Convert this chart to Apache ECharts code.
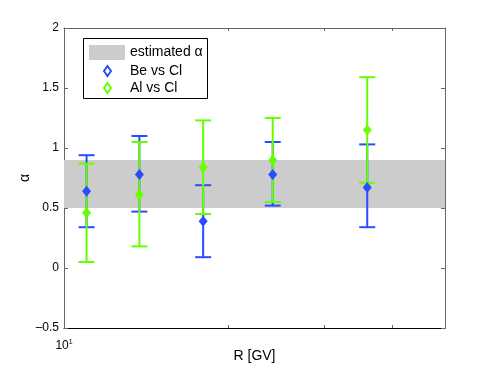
<!DOCTYPE html>
<html>
<head>
<meta charset="utf-8">
<script src="https://cdn.jsdelivr.net/npm/echarts@6/dist/echarts.min.js"></script>
<style>
  html, body { margin: 0; padding: 0; background: #fff; }
  #chart { width: 491px; height: 370px; }
</style>
</head>
<body>
<div id="chart"></div>
<script>
// rigidity bins (GV) and alpha estimates
const rigidity = [11, 13.75, 18, 24.15, 36];
const beAlpha = [0.64, 0.78, 0.39, 0.78, 0.67];
const beLow = [0.34, 0.47, 0.09, 0.52, 0.34];
const beHigh = [0.94, 1.10, 0.69, 1.05, 1.03];
const alAlpha = [0.46, 0.61, 0.84, 0.90, 1.15];
const alLow = [0.05, 0.18, 0.45, 0.55, 0.71];
const alHigh = [0.87, 1.05, 1.23, 1.25, 1.59];
const bandRange = [0.5, 0.9];
const xMinorTicks = [20, 30, 40];

const BLUE = '#2b4bff';
const GREEN = '#66ff00';
const FONT = 'Liberation Sans';

const chart = echarts.init(document.getElementById('chart'));

function errorBarItem(params, api) {
  const x = api.value(0);
  const lo = api.coord([x, api.value(1)]);
  const hi = api.coord([x, api.value(2)]);
  const half = 8;
  const style = { stroke: api.visual('color'), lineWidth: 2 };
  return {
    type: 'group',
    children: [
      { type: 'line', shape: { x1: lo[0], y1: lo[1], x2: hi[0], y2: hi[1] }, style },
      { type: 'line', shape: { x1: lo[0] - half, y1: lo[1], x2: lo[0] + half, y2: lo[1] }, style },
      { type: 'line', shape: { x1: hi[0] - half, y1: hi[1], x2: hi[0] + half, y2: hi[1] }, style }
    ]
  };
}

function bandItem(params, api) {
  const cs = params.coordSys;
  const top = api.coord([api.value(0), api.value(2)])[1];
  const bottom = api.coord([api.value(0), api.value(1)])[1];
  return {
    type: 'rect',
    shape: { x: cs.x, y: top, width: cs.width, height: bottom - top },
    style: { fill: '#cccccc' }
  };
}

const xBase = {
  type: 'log',
  logBase: 10,
  min: 10,
  max: 50,
  splitLine: { show: false },
  axisTick: { inside: true, length: 3, customValues: xMinorTicks, lineStyle: { color: '#666' } }
};
const yBase = {
  type: 'value',
  min: -0.5,
  max: 2,
  interval: 0.5,
  splitLine: { show: false },
  axisTick: { inside: true, length: 4, lineStyle: { color: '#666' } }
};

chart.setOption({
  animation: false,
  textStyle: { fontFamily: FONT },
  grid: { left: 64, right: 46, top: 28, bottom: 42, outerBoundsMode: 'none', containLabel: false },
  xAxis: [
    Object.assign({}, xBase, {
      position: 'bottom',
      axisLine: { onZero: false, lineStyle: { color: '#000', width: 1 } },
      axisLabel: {
        customValues: [10],
        margin: 11,
        formatter: () => '{b|10}{s|1}',
        rich: {
          b: { fontSize: 12, color: '#000', fontFamily: FONT },
          s: { fontSize: 7, color: '#000', fontFamily: FONT, verticalAlign: 'top', padding: [0, 0, 7, 0] }
        }
      },
      name: 'R [GV]',
      nameLocation: 'middle',
      nameGap: 21,
      nameMoveOverlap: false,
      nameTextStyle: { fontSize: 14, color: '#000', fontFamily: FONT }
    }),
    Object.assign({}, xBase, {
      position: 'top',
      axisLine: { onZero: false, lineStyle: { color: '#666', width: 1 } },
      axisLabel: { show: false }
    })
  ],
  yAxis: [
    Object.assign({}, yBase, {
      position: 'left',
      axisLine: { onZero: false, lineStyle: { color: '#666', width: 1 } },
      axisLabel: {
        margin: 5,
        fontSize: 12,
        color: '#000',
        formatter: v => String(v).replace('-', '\u2013')
      },
      name: '\u03b1',
      nameLocation: 'middle',
      nameGap: 32,
      nameMoveOverlap: false,
      nameRotate: 90,
      nameTextStyle: { fontSize: 14, color: '#000', fontFamily: FONT }
    }),
    Object.assign({}, yBase, {
      position: 'right',
      axisLine: { onZero: false, lineStyle: { color: '#666', width: 1 } },
      axisLabel: { show: false }
    })
  ],
  legend: [
    {
      left: 89,
      top: 45,
      padding: 0,
      itemWidth: 36,
      itemHeight: 15,
      itemGap: 5,
      data: [{ name: 'estimated \u03b1', icon: 'rect' }],
      textStyle: { fontSize: 14, color: '#000', fontFamily: FONT },
      selectedMode: false
    },
    {
      left: 103,
      top: 64,
      padding: 0,
      orient: 'vertical',
      itemWidth: 7,
      itemHeight: 10,
      itemGap: 3,
      data: [
        { name: 'Be vs Cl', icon: 'emptyDiamond' },
        { name: 'Al vs Cl', icon: 'emptyDiamond' }
      ],
      textStyle: { fontSize: 14, color: '#000', fontFamily: FONT, padding: [0, 0, 0, 14] },
      selectedMode: false
    }
  ],
  graphic: [
    {
      type: 'rect',
      z: 3,
      shape: { x: 83.5, y: 38.5, width: 124, height: 60 },
      style: { fill: '#fff', stroke: '#000', lineWidth: 1 }
    }
  ],
  series: [
    {
      name: 'estimated \u03b1',
      type: 'custom',
      renderItem: bandItem,
      itemStyle: { color: '#cccccc' },
      encode: { x: 0, y: [1, 2] },
      data: [[rigidity[0], bandRange[0], bandRange[1]]],
      z: 1
    },
    {
      name: 'Be vs Cl',
      type: 'custom',
      renderItem: errorBarItem,
      itemStyle: { color: BLUE },
      encode: { x: 0, y: [1, 2] },
      data: rigidity.map((r, i) => [r, beLow[i], beHigh[i]])
    },
    {
      name: 'Be vs Cl',
      type: 'scatter',
      symbol: 'diamond',
      symbolSize: [9, 11],
      itemStyle: { color: BLUE, opacity: 1 },
      data: rigidity.map((r, i) => [r, beAlpha[i]])
    },
    {
      name: 'Al vs Cl',
      type: 'custom',
      renderItem: errorBarItem,
      itemStyle: { color: GREEN },
      encode: { x: 0, y: [1, 2] },
      data: rigidity.map((r, i) => [r, alLow[i], alHigh[i]])
    },
    {
      name: 'Al vs Cl',
      type: 'scatter',
      symbol: 'diamond',
      symbolSize: [9, 11],
      itemStyle: { color: GREEN, opacity: 1 },
      data: rigidity.map((r, i) => [r, alAlpha[i]])
    }
  ]
});
</script>
</body>
</html>
